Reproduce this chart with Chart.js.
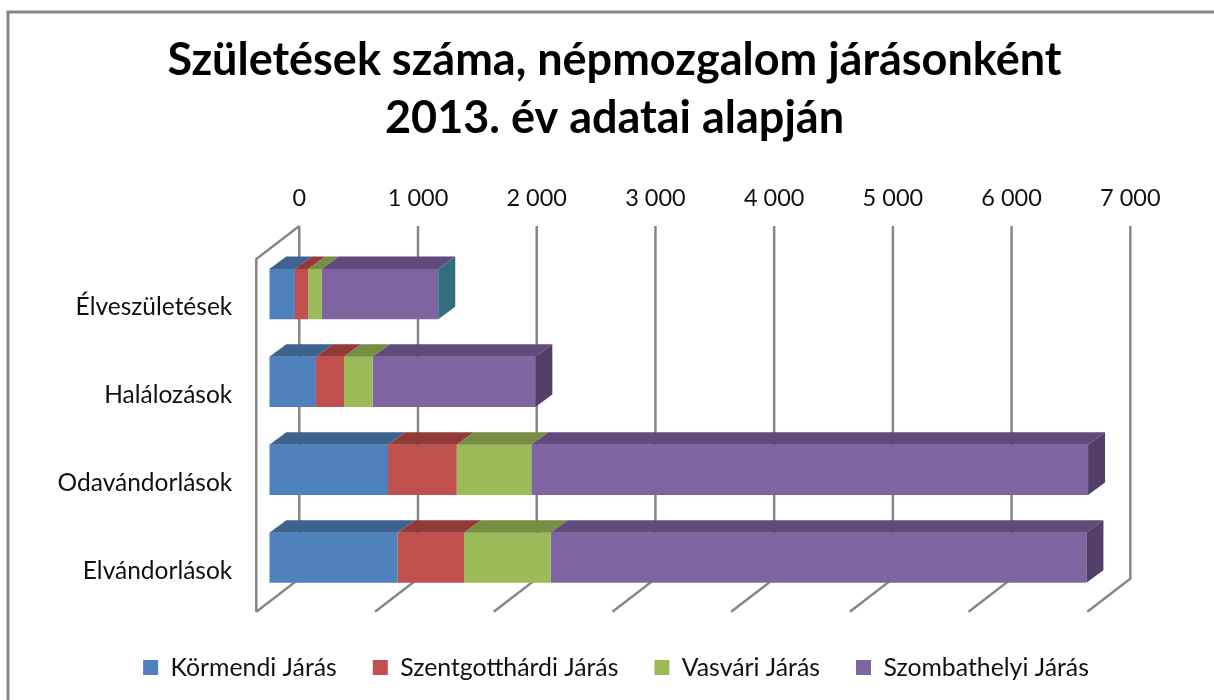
<!DOCTYPE html>
<html>
<head>
<meta charset="utf-8">
<style>
  body { margin: 0; background: #fff; }
  canvas { display: block; }
</style>
<script src="https://cdn.jsdelivr.net/npm/chart.js@4"></script>
</head>
<body>
<canvas id="myChart" width="1214" height="700"></canvas>
<script>
const titleLines = ['Születések száma, népmozgalom járásonként', '2013. év adatai alapján'];
const categories = ['Élveszületések', 'Halálozások', 'Odavándorlások', 'Elvándorlások'];
const xTickLabels = ['0', '1 000', '2 000', '3 000', '4 000', '5 000', '6 000', '7 000'];

const kormendi = [216, 393, 1000, 1082];
const szentgotthardi = [112, 236, 579, 559];
const vasvari = [115, 242, 628, 730];
const szombathelyi = [980, 1370, 4690, 4512];

const seriesNames = ['Körmendi Járás', 'Szentgotthárdi Járás', 'Vasvári Járás', 'Szombathelyi Járás'];
const frontColors = ['#4f81bd', '#c0504d', '#9bbb59', '#8064a2'];
const topColors = ['#3d648f', '#923a38', '#768e42', '#624b7c'];
const sideColors = ['#316e7f', '#533f68', '#533f68', '#533f68'];

const gridColor = '#868686';
const fontName = 'Lato, "Noto Sans", sans-serif';

function polygon(ctx, pts, fill) {
  ctx.beginPath();
  ctx.moveTo(pts[0][0], pts[0][1]);
  for (let i = 1; i < pts.length; i++) ctx.lineTo(pts[i][0], pts[i][1]);
  ctx.closePath();
  ctx.fillStyle = fill;
  ctx.fill();
}

// the fake 3D: walls behind the bars, depth faces on top of them
const fake3d = {
  id: 'fake3d',
  beforeDraw(chart) {
    const ctx = chart.ctx;
    ctx.save();
    ctx.strokeStyle = gridColor;
    ctx.lineWidth = 3;
    ctx.strokeRect(8, 12, 1300, 800);
    ctx.restore();
  },
  afterLayout(chart) {
    // title and legend are centred on the whole frame, not on the plot
    chart.titleBlock.left = 15;
    chart.titleBlock.right = 1214;
    chart.legend.left = 18;
    chart.legend.right = 1214;
    chart.legend.top += 17.5;
    chart.legend.bottom += 17.5;
  },
  beforeDatasetsDraw(chart) {
    const ctx = chart.ctx;
    const area = chart.chartArea;
    const xs = chart.scales.x;
    ctx.save();
    ctx.strokeStyle = gridColor;
    ctx.lineWidth = 2.5;
    ctx.lineJoin = 'miter';
    xs.ticks.forEach(function (t) {
      const px = xs.getPixelForValue(t.value);
      ctx.beginPath();
      ctx.moveTo(px + 30, area.top - 24);
      ctx.lineTo(px + 30, area.bottom - 23);
      ctx.lineTo(px - 13, area.bottom + 10);
      ctx.stroke();
    });
    // left wall
    const x0 = xs.getPixelForValue(0);
    ctx.beginPath();
    ctx.moveTo(x0 + 30, area.top - 24);
    ctx.lineTo(x0 - 13, area.top + 9);
    ctx.lineTo(x0 - 13, area.bottom + 10);
    ctx.stroke();
    ctx.restore();
  },
  afterDatasetsDraw(chart) {
    const ctx = chart.ctx;
    const dx = 17, dy = 12.5;
    const last = chart.data.datasets.length - 1;
    chart.data.datasets.forEach(function (ds, di) {
      chart.getDatasetMeta(di).data.forEach(function (bar, i) {
        const top = bar.y - bar.height / 2;
        const bottom = bar.y + bar.height / 2;
        polygon(ctx, [[bar.base, top], [bar.x, top], [bar.x + dx, top - dy], [bar.base + dx, top - dy]], topColors[di]);
        if (di === last) {
          polygon(ctx, [[bar.x, top], [bar.x + dx, top - dy], [bar.x + dx, bottom - dy], [bar.x, bottom]], sideColors[i]);
        }
      });
    });
  }
};

const seriesValues = [kormendi, szentgotthardi, vasvari, szombathelyi];

new Chart(document.getElementById('myChart'), {
  type: 'bar',
  plugins: [fake3d],
  data: {
    labels: categories,
    datasets: seriesNames.map(function (name, i) {
      return {
        label: name,
        data: seriesValues[i],
        backgroundColor: frontColors[i],
        borderWidth: 0,
        categoryPercentage: 1,
        barPercentage: 0.571
      };
    })
  },
  options: {
    indexAxis: 'y',
    responsive: false,
    animation: false,
    layout: { padding: { left: 0, right: 113.7, top: 0, bottom: 27.5 } },
    plugins: {
      title: {
        display: true,
        text: titleLines,
        color: '#000',
        font: { family: fontName, size: 45, weight: 'bold', lineHeight: 1.29 },
        padding: { top: 31, bottom: 19 }
      },
      legend: {
        position: 'bottom',
        labels: {
          color: '#111',
          font: { family: fontName, size: 24.8 },
          boxWidth: 15,
          boxHeight: 15,
          padding: 36
        }
      },
      tooltip: { enabled: false }
    },
    scales: {
      x: {
        position: 'top',
        stacked: true,
        min: 0,
        max: 7000,
        grid: { display: false, drawTicks: false },
        border: { display: false },
        afterFit: function (s) { s.height = 84; },
        ticks: {
          stepSize: 1000,
          labelOffset: 30,
          maxRotation: 0,
          padding: 38,
          color: '#111',
          font: { family: fontName, size: 23.5 },
          callback: function (v, i) { return xTickLabels[i]; }
        }
      },
      y: {
        stacked: true,
        grid: { display: false, drawTicks: false },
        border: { display: false },
        afterFit: function (s) { s.width = 269.3; },
        ticks: {
          labelOffset: 13,
          padding: 37,
          color: '#111',
          font: { family: fontName, size: 24.5 }
        }
      }
    }
  }
});
</script>
</body>
</html>
